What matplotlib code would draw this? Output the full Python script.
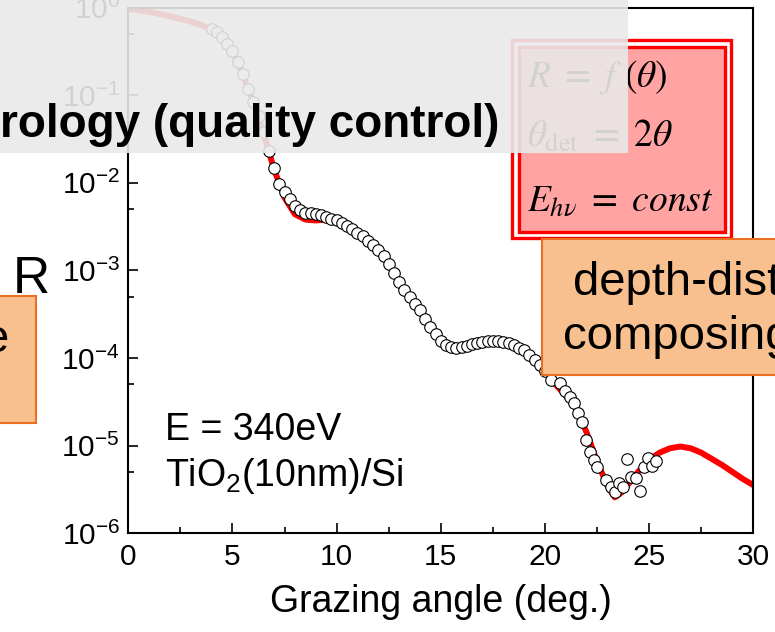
import numpy as np
import matplotlib
matplotlib.use("Agg")
import matplotlib.pyplot as plt
from matplotlib.patches import Rectangle
from matplotlib.ticker import MultipleLocator, LogLocator, NullFormatter

plt.rcParams["font.family"] = ["Liberation Sans", "DejaVu Sans"]
plt.rcParams["mathtext.fontset"] = "custom"
plt.rcParams["mathtext.rm"] = "Liberation Sans"
plt.rcParams["mathtext.it"] = "Liberation Sans:italic"
plt.rcParams["mathtext.bf"] = "Liberation Sans:bold"
plt.rcParams["axes.unicode_minus"] = False

# measured reflectivity (log10 R) vs grazing angle
theta_meas = [4.0, 4.25, 4.5, 4.75, 5.0, 5.25, 5.5, 5.75, 6.0, 6.25, 6.5, 6.75,
              7.0, 7.25, 7.5, 7.75, 8.0, 8.25, 8.5, 8.75, 9.0, 9.25, 9.5, 9.75,
              10.0, 10.25, 10.5, 10.75, 11.0, 11.25, 11.5, 11.75, 12.0, 12.25,
              12.5, 12.75, 13.0, 13.25, 13.5, 13.75, 14.0, 14.25, 14.5, 14.75,
              15.0, 15.25, 15.5, 15.75, 16.0, 16.25, 16.5, 16.75, 17.0, 17.25,
              17.5, 17.75, 18.0, 18.25, 18.5, 18.75, 19.0, 19.25, 19.5, 19.75,
              20.0, 20.3, 20.7, 20.95, 21.2, 21.4, 21.6, 21.8, 21.95, 22.15,
              22.35, 22.5, 22.95, 23.15, 23.35, 23.55, 23.75, 23.95, 24.15,
              24.35, 24.55, 24.73, 24.93, 25.15, 25.35]
logR_meas = [-0.24, -0.28, -0.34, -0.42, -0.50, -0.62, -0.76, -0.93, -1.08, -1.24,
             -1.42, -1.64, -1.83, -2.01, -2.11, -2.19, -2.26, -2.31, -2.34, -2.35,
             -2.36, -2.37, -2.39, -2.41, -2.43, -2.46, -2.49, -2.53, -2.57, -2.61,
             -2.66, -2.71, -2.77, -2.83, -2.93, -3.03, -3.13, -3.22, -3.30, -3.38,
             -3.45, -3.55, -3.65, -3.73, -3.80, -3.85, -3.87, -3.88, -3.87, -3.86,
             -3.84, -3.83, -3.82, -3.81, -3.81, -3.81, -3.82, -3.83, -3.85, -3.88,
             -3.91, -3.96, -4.02, -4.08, -4.15, -4.25, -4.29, -4.38, -4.44, -4.51,
             -4.63, -4.73, -4.93, -5.07, -5.16, -5.24, -5.39, -5.47, -5.53, -5.43,
             -5.47, -5.15, -5.36, -5.37, -5.52, -5.24, -5.14, -5.23, -5.17]

# fitted curve
theta_fit = [0, 1, 2, 3, 3.5, 4, 4.5, 5, 5.5, 6, 6.5, 7, 7.5, 8, 8.5, 9, 9.5,
             10, 10.5, 11, 11.5, 12, 12.5, 13, 13.5, 14, 14.5, 15, 15.5, 16,
             16.5, 17, 17.5, 18, 18.5, 19, 19.5, 20, 20.5, 21, 21.5, 22, 22.5,
             23, 23.35, 23.7, 24, 24.5, 25, 25.5, 26, 26.5, 27, 27.5, 28, 28.5,
             29, 29.5, 30]
logR_fit = [-0.015, -0.05, -0.10, -0.16, -0.20, -0.25, -0.34, -0.50, -0.77, -1.08,
            -1.44, -1.85, -2.17, -2.36, -2.42, -2.43, -2.42, -2.44, -2.49, -2.57,
            -2.66, -2.77, -2.93, -3.13, -3.30, -3.45, -3.65, -3.80, -3.87, -3.87,
            -3.84, -3.82, -3.81, -3.82, -3.85, -3.91, -4.02, -4.16, -4.30, -4.43,
            -4.58, -4.85, -5.18, -5.46, -5.59, -5.53, -5.44, -5.29, -5.16, -5.08,
            -5.03, -5.01, -5.03, -5.08, -5.15, -5.22, -5.30, -5.38, -5.45]

W, H = 775, 632


def fx(x):
    return x / W


def fy(y):
    return 1 - y / H


fig = plt.figure(figsize=(W / 100, H / 100), dpi=100)
ax = fig.add_axes([fx(128.3), fy(533.3), fx(753.3) - fx(128.3), fy(7.5) - fy(533.3)])

ax.plot(theta_fit, 10 ** np.array(logR_fit), color="red", lw=4.3, zorder=2)
ax.plot(theta_meas, 10 ** np.array(logR_meas), "o", ms=8.3, mfc="white",
        mec="black", mew=0.8, zorder=3)

ax.set_yscale("log")
ax.set_xlim(0, 30)
ax.set_ylim(1e-6, 1)
ax.xaxis.set_major_locator(MultipleLocator(5))
ax.xaxis.set_minor_locator(MultipleLocator(2.5))
ax.yaxis.set_major_locator(LogLocator(base=10, numticks=10))
ax.yaxis.set_minor_locator(LogLocator(base=10, subs=[5], numticks=10))
ax.yaxis.set_minor_formatter(NullFormatter())
ax.tick_params(which="both", direction="in", top=False, right=False,
               width=1.2, labelsize=21.5)
ax.tick_params(which="major", length=7.2)
ax.tick_params(which="minor", length=4.5)
ax.tick_params(axis="x", pad=7)
ax.tick_params(axis="y", pad=6)
for s in ax.spines.values():
    s.set_linewidth(1.5)
ax.set_xlabel("Grazing angle (deg.)", fontsize=27, labelpad=9)

ax.text(0.059, 0.177, "E = 340eV", transform=ax.transAxes, fontsize=27,
        va="baseline")
ax.text(0.059, 0.090, "TiO$_2$(10nm)/Si", transform=ax.transAxes,
        fontsize=27, va="baseline")

# red formula box
fig.add_artist(Rectangle((fx(512), fy(238)), fx(731) - fx(512), fy(40) - fy(238),
                         transform=fig.transFigure, facecolor="white",
                         edgecolor="red", lw=2.4, zorder=2))
fig.add_artist(Rectangle((fx(518.5), fy(231.5)), fx(724.5) - fx(518.5),
                         fy(46.5) - fy(231.5), transform=fig.transFigure,
                         facecolor="#ffa3a3", edgecolor="red", lw=2.4, zorder=2))
formulas = [r"$R\ =\ f\ (\theta)$", r"$\theta_{\rm det}\ =\ 2\theta$",
            r"$E_{h\nu}\ =\ const$"]
for txt, yb in zip(formulas, [87, 147, 211]):
    fig.text(fx(527), fy(yb), txt, fontsize=27, va="baseline",
             math_fontfamily="stix", zorder=3)

# orange boxes
fig.add_artist(Rectangle((fx(542), fy(375)), fx(800) - fx(542), fy(239) - fy(375),
                         transform=fig.transFigure, facecolor="#f9c08f",
                         edgecolor="#e87020", lw=1.5, zorder=3))
fig.text(fx(573), fy(295), "depth-dist", fontsize=34, va="baseline", zorder=4)
fig.text(fx(563), fy(349), "composing", fontsize=34, va="baseline", zorder=4)

fig.add_artist(Rectangle((fx(-10), fy(423)), fx(36) - fx(-10), fy(296) - fy(423),
                         transform=fig.transFigure, facecolor="#f9c08f",
                         edgecolor="#e87020", lw=1.5, zorder=3))
fig.text(fx(9), fy(352), "e", fontsize=34, ha="right", va="baseline", zorder=4)
fig.text(fx(13), fy(293), "R", fontsize=37, va="baseline", zorder=4)

# grey title band on top
fig.add_artist(Rectangle((0, fy(153)), fx(628), 1 - fy(153),
                         transform=fig.transFigure, facecolor="#e9e9e9",
                         edgecolor="none", alpha=0.9, zorder=5))
fig.text(fx(0), fy(137), "rology (quality control)", fontsize=33,
         fontweight="bold", va="baseline", zorder=6)

fig.savefig("out.png", dpi=100)
